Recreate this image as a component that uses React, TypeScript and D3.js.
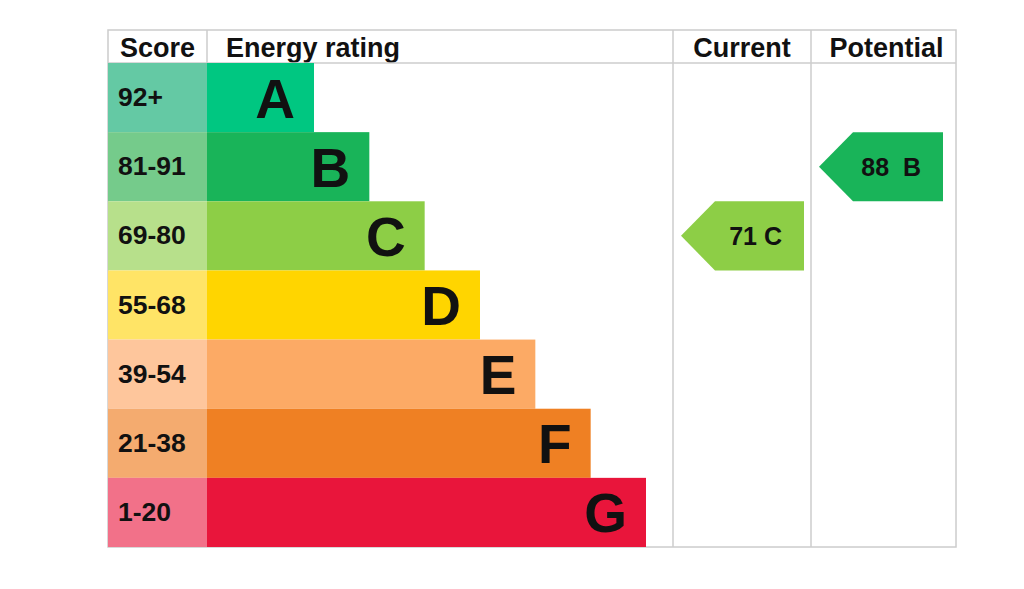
import React from 'react';
import * as d3 from 'd3';

// EPC bands, best to worst
const bands = ['A', 'B', 'C', 'D', 'E', 'F', 'G'];
const scoreLabels = ['92+', '81-91', '69-80', '55-68', '39-54', '21-38', '1-20'];
const bandMins = [92, 81, 69, 55, 39, 21, 1];
const barColors = ['#00c781', '#19b459', '#8dce46', '#ffd500', '#fcaa65', '#ef8023', '#e9153b'];
const cellColors = ['#64c9a4', '#75cb8b', '#b7e08b', '#ffe466', '#fec69c', '#f4ab6f', '#f27189'];

const currentScore = 71;
const potentialScore = 88;
// arrow labels as printed
const currentLabel = '71 C';
const potentialLabel = '88  B';

const W = 1024;
const H = 589;
const left = 108;
const top = 30;
const headerH = 33;
const bottom = 547;
const scoreRight = 207;
const ratingRight = 673;
const currentRight = 811;
const right = 956;

const font = '"Liberation Sans", Arial, Helvetica, sans-serif';
const gridColor = '#cccccc';

const bandOf = (score: number) => bandMins.findIndex((m) => score >= m);

export default function App() {
  const y = d3.scaleBand<string>().domain(bands).range([top + headerH, bottom]).paddingInner(0);
  const barEnd = d3.scaleLinear().domain([0, bands.length - 1]).range([314, 646]);
  const rowH = y.bandwidth();

  const arrow = (score: number, label: string, x0: number, x1: number) => {
    const i = bandOf(score);
    const y0 = y(bands[i])!;
    const tipW = 34;
    const path = d3.path();
    path.moveTo(x0, y0 + rowH / 2);
    path.lineTo(x0 + tipW, y0);
    path.lineTo(x1, y0);
    path.lineTo(x1, y0 + rowH);
    path.lineTo(x0 + tipW, y0 + rowH);
    path.closePath();
    return (
      <g>
        <path d={path.toString()} fill={barColors[i]} />
        <text
          x={x1 - 22}
          y={y0 + rowH / 2 + 9}
          textAnchor="end"
          fontSize={25}
          fontWeight="bold"
          fontFamily={font}
          fill="#111"
          style={{ whiteSpace: 'pre' }}
        >
          {label}
        </text>
      </g>
    );
  };

  return (
    <svg width={W} height={H} style={{ position: 'absolute', left: 0, top: 0, background: '#fff' }}>
      {/* header */}
      <g fontFamily={font} fontWeight="bold" fontSize={27} fill="#111">
        <text x={(left + scoreRight) / 2} y={top + 27} textAnchor="middle">Score</text>
        <text x={scoreRight + 19} y={top + 27}>Energy rating</text>
        <text x={(ratingRight + currentRight) / 2} y={top + 27} textAnchor="middle">Current</text>
        <text x={(currentRight + right) / 2 + 3} y={top + 27} textAnchor="middle">Potential</text>
      </g>

      {/* grid */}
      <g stroke={gridColor} strokeWidth={1.5} fill="none">
        <rect x={left} y={top} width={right - left} height={bottom - top} />
        <line x1={left} x2={right} y1={top + headerH} y2={top + headerH} />
        <line x1={scoreRight} x2={scoreRight} y1={top} y2={top + headerH} />
        <line x1={ratingRight} x2={ratingRight} y1={top} y2={bottom} />
        <line x1={currentRight} x2={currentRight} y1={top} y2={bottom} />
      </g>

      {/* rows */}
      {bands.map((b, i) => {
        const y0 = y(b)!;
        return (
          <g key={b}>
            <rect x={left} y={y0} width={scoreRight - left} height={rowH} fill={cellColors[i]} />
            <rect x={scoreRight} y={y0} width={barEnd(i) - scoreRight} height={rowH} fill={barColors[i]} />
            <text
              x={left + 10}
              y={y0 + rowH / 2 + 8.5}
              fontFamily={font}
              fontWeight="bold"
              fontSize={26.5}
              fill="#111"
            >
              {scoreLabels[i]}
            </text>
            <text
              x={barEnd(i) - 19}
              y={y0 + rowH / 2 + 20}
              textAnchor="end"
              fontFamily={font}
              fontWeight="bold"
              fontSize={55}
              fill="#111"
            >
              {b}
            </text>
          </g>
        );
      })}

      {arrow(currentScore, currentLabel, 681, 804)}
      {arrow(potentialScore, potentialLabel, 819, 943)}
    </svg>
  );
}
